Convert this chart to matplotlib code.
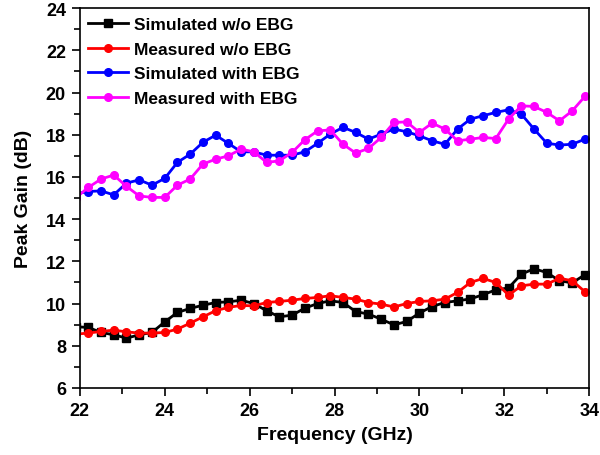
import numpy as np
import matplotlib.pyplot as plt
from matplotlib.ticker import MultipleLocator

plt.rcParams['font.family'] = ['Liberation Sans', 'DejaVu Sans']
plt.rcParams['font.weight'] = 'bold'

# frequency points (GHz), 0.3 GHz step
freq = np.round(np.arange(21.9, 34.21, 0.3), 2)

sim_wo = [8.90, 8.87, 8.63, 8.52, 8.36, 8.52, 8.63, 9.13, 9.58, 9.77, 9.92,
          10.05, 10.08, 10.16, 10.00, 9.66, 9.37, 9.45, 9.78, 10.00, 10.13,
          10.05, 9.62, 9.50, 9.26, 8.99, 9.15, 9.55, 9.86, 10.05, 10.13,
          10.22, 10.42, 10.65, 10.74, 11.39, 11.65, 11.47, 11.08, 10.98,
          11.37, 11.40]
meas_wo = [8.55, 8.60, 8.68, 8.74, 8.66, 8.60, 8.60, 8.63, 8.79, 9.07, 9.37,
           9.66, 9.82, 9.91, 9.89, 10.05, 10.10, 10.16, 10.24, 10.29, 10.37,
           10.29, 10.21, 10.05, 9.97, 9.84, 10.00, 10.10, 10.13, 10.21, 10.53,
           11.00, 11.19, 11.00, 10.40, 10.84, 10.92, 10.92, 11.20, 11.08,
           10.56, 10.40]
sim_ebg = [15.20, 15.31, 15.34, 15.15, 15.71, 15.86, 15.61, 15.93, 16.69,
           17.08, 17.64, 17.98, 17.59, 17.19, 17.19, 17.03, 17.03, 17.03,
           17.19, 17.59, 18.03, 18.35, 18.11, 17.79, 18.03, 18.27, 18.14,
           17.95, 17.71, 17.55, 18.27, 18.74, 18.90, 19.06, 19.18, 18.98,
           18.27, 17.60, 17.51, 17.55, 17.79, 17.90]
meas_ebg = [15.00, 15.50, 15.90, 16.09, 15.55, 15.10, 15.03, 15.03, 15.61,
            15.90, 16.61, 16.84, 17.00, 17.32, 17.19, 16.69, 16.76, 17.16,
            17.76, 18.18, 18.23, 17.55, 17.13, 17.35, 17.87, 18.58, 18.61,
            18.11, 18.55, 18.27, 17.71, 17.79, 17.87, 17.82, 18.74, 19.37,
            19.34, 19.06, 18.66, 19.13, 19.82, 20.00]

fig = plt.figure(figsize=(6, 4.56), dpi=100)
ax = fig.add_axes([0.133, 0.147, 0.849, 0.833])

ax.plot(freq, sim_wo, color='black', marker='s', ms=5.5, lw=2,
        label='Simulated w/o EBG')
ax.plot(freq, meas_wo, color='red', marker='o', ms=5.5, lw=2,
        label='Measured w/o EBG')
ax.plot(freq, sim_ebg, color='blue', marker='o', ms=5.5, lw=2,
        label='Simulated with EBG')
ax.plot(freq, meas_ebg, color='magenta', marker='o', ms=5.5, lw=2,
        label='Measured with EBG')

ax.set_xlim(22, 34)
ax.set_ylim(6, 24)
ax.xaxis.set_major_locator(MultipleLocator(2))
ax.xaxis.set_minor_locator(MultipleLocator(1))
ax.yaxis.set_major_locator(MultipleLocator(2))
ax.yaxis.set_minor_locator(MultipleLocator(1))
ax.tick_params(which='major', direction='out', length=6, width=1.2,
               labelsize=13, pad=4)
ax.tick_params(which='minor', direction='out', length=4, width=1.2)
for s in ax.spines.values():
    s.set_linewidth(1.2)

ax.set_xlabel('Frequency (GHz)', fontsize=14, fontweight='bold', labelpad=5)
ax.set_ylabel('Peak Gain (dB)', fontsize=14, fontweight='bold', labelpad=10)

ax.legend(loc='upper left', frameon=False, fontsize=12.5, handlelength=2.3,
          borderaxespad=0.1, labelspacing=0.55, handletextpad=0.35)

fig.savefig('out.png', dpi=100)
